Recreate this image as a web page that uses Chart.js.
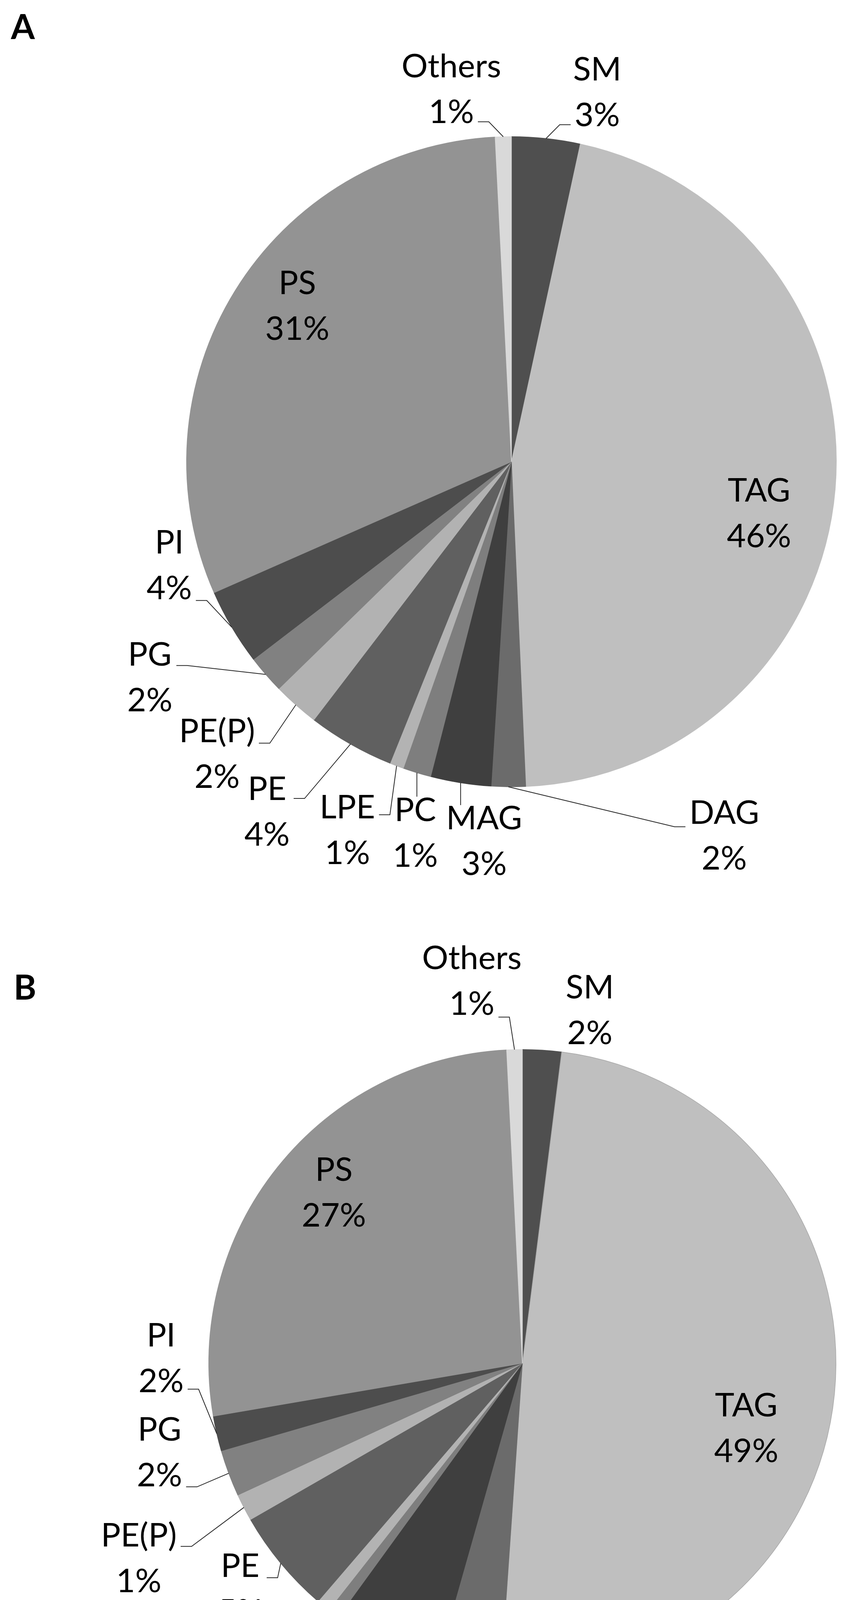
<!DOCTYPE html>
<html lang="en">
<head>
    <meta charset="UTF-8">
    <title>Lipid class composition</title>
    <script src="https://cdn.jsdelivr.net/npm/chart.js"></script>
    <style>
        html, body { margin: 0; padding: 0; background: #fff; }
        body { width: 2190px; height: 4567px; overflow: hidden; }
        canvas { display: block; }
    </style>
</head>
<body>
    <canvas id="pieA" width="2190" height="2300"></canvas>
    <canvas id="pieB" width="2190" height="2267"></canvas>

    <script>
        // lipid classes, clockwise from 12 o'clock
        const categories = ['SM', 'TAG', 'DAG', 'MAG', 'PC', 'LPE', 'PE', 'PE(P)', 'PG', 'PI', 'PS', 'Others'];

        // percent of total
        const valuesA = [3.4, 45.9, 1.7, 3.0, 1.4, 0.7, 4.3, 2.3, 1.9, 3.8, 30.8, 0.8];
        const valuesB = [2.0, 49.1, 3.3, 5.6, 0.6, 0.7, 5.4, 1.4, 2.4, 1.8, 26.9, 0.8];

        const sliceColors = ['#4f4f4f', '#bfbfbf', '#6b6b6b', '#3f3f3f', '#7e7e7e', '#b3b3b3',
                             '#606060', '#b2b2b2', '#818181', '#4d4d4d', '#939393', '#d9d9d9'];
        // panel B has a faint outline round the TAG slice
        const borderColorsB = sliceColors.map((c, i) => i === 1 ? '#a8a8a8' : c);

        // label placement: [dx, dy] of the label block centre in radii from the pie centre,
        // leader side ('l' / 'r' / 't' / null) and where the leader meets the block (in line heights)
        const labelLayoutA = [
            [0.264, -1.135, 'l', 0.7],     // SM
            [0.762, 0.160, null, 0],       // TAG
            [0.655, 1.151, 'l', -0.2],     // DAG
            [-0.084, 1.169, 't', 0],       // MAG
            [-0.296, 1.143, 't', 0],       // PC
            [-0.505, 1.135, 'r', -0.35],   // LPE
            [-0.752, 1.078, 'r', -0.3],    // PE
            [-0.906, 0.901, 'r', -0.25],   // PE(P)
            [-1.113, 0.665, 'r', -0.27],   // PG
            [-1.053, 0.320, 'r', 0.76],    // PI
            [-0.659, -0.478, null, 0],     // PS
            [-0.185, -1.144, 'r', 0.7]     // Others
        ];
        const labelLayoutB = [
            [0.215, -1.124, null, 0],      // SM
            [0.714, 0.209, null, 0],       // TAG
            [0.139, 1.186, 'l', -0.24],    // DAG
            [-0.479, 1.085, null, 0],      // MAG
            [-0.776, 1.146, 'r', -0.27],   // PC
            [-1.037, 1.077, 'r', -0.38],   // LPE
            [-0.900, 0.720, 'r', -0.25],   // PE
            [-1.223, 0.623, 'r', -0.27],   // PE(P)
            [-1.157, 0.286, 'r', 0.74],    // PG
            [-1.152, -0.015, 'r', 0.67],   // PI
            [-0.601, -0.542, null, 0],     // PS
            [-0.161, -1.217, 'r', 0.78]    // Others
        ];

        const FONT = 'Lato, "Open Sans", sans-serif';

        // draws "name / pct" labels with Excel-like leader lines, plus the panel letter
        const sliceLabels = {
            id: 'sliceLabels',
            afterDatasetsDraw(chart, args, opts) {
                const ctx = chart.ctx;
                const meta = chart.getDatasetMeta(0);
                const data = chart.data.datasets[0].data;
                const total = data.reduce((a, b) => a + b, 0);
                const lh = opts.lineHeight;
                ctx.save();
                ctx.font = opts.size + 'px ' + FONT;
                ctx.textAlign = 'center';
                ctx.textBaseline = 'middle';
                ctx.fillStyle = '#000';
                ctx.strokeStyle = '#262626';
                ctx.lineWidth = 2;
                meta.data.forEach((arc, i) => {
                    const [dx, dy, side, ay] = opts.layout[i];
                    const R = arc.outerRadius;
                    const bx = arc.x + dx * R;
                    const by = arc.y + dy * R;
                    const name = chart.data.labels[i];
                    const pct = Math.round(data[i] / total * 100) + '%';
                    ctx.fillText(name, bx, by - lh / 2);
                    ctx.fillText(pct, bx, by + lh / 2);
                    if (!side) return;
                    const mid = (arc.startAngle + arc.endAngle) / 2;
                    const px = arc.x + R * Math.cos(mid);
                    const py = arc.y + R * Math.sin(mid);
                    const wName = ctx.measureText(name).width;
                    const wPct = ctx.measureText(pct).width;
                    const w = ay > 0.4 ? wPct : Math.max(wName, wPct);
                    ctx.beginPath();
                    ctx.moveTo(px, py);
                    if (side === 't') {
                        ctx.lineTo(px, by - lh / 2 - opts.size * 0.42);
                    } else {
                        const sx = side === 'l' ? bx - w / 2 - 10 : bx + w / 2 + 10;
                        const ex = side === 'l' ? sx - 28 : sx + 28;
                        const sy = by + ay * lh;
                        ctx.lineTo(ex, sy);
                        ctx.lineTo(sx, sy);
                    }
                    ctx.stroke();
                });
                // panel letter
                ctx.font = 'bold ' + opts.letterSize + 'px ' + FONT;
                ctx.textAlign = 'left';
                ctx.textBaseline = 'alphabetic';
                ctx.fillText(opts.letter, opts.letterX, opts.letterY);
                ctx.restore();
            }
        };

        function makePie(id, values, borders, layout, padding, letter, letterX, letterY) {
            return new Chart(document.getElementById(id), {
                type: 'pie',
                data: {
                    labels: categories,
                    datasets: [{
                        data: values,
                        backgroundColor: sliceColors,
                        borderColor: borders,
                        borderWidth: 1.5,
                        hoverOffset: 0
                    }]
                },
                options: {
                    responsive: false,
                    animation: false,
                    devicePixelRatio: 1,
                    layout: { padding: padding },
                    plugins: {
                        legend: { display: false },
                        tooltip: { enabled: false },
                        sliceLabels: {
                            layout: layout,
                            size: 84,
                            lineHeight: 117,
                            letter: letter,
                            letterSize: 88,
                            letterX: letterX,
                            letterY: letterY
                        }
                    }
                },
                plugins: [sliceLabels]
            });
        }

        makePie('pieA', valuesA, sliceColors, labelLayoutA, { left: 477, right: 47, top: 349, bottom: 285 }, 'A', 28, 100);
        makePie('pieB', valuesB, borderColorsB, labelLayoutB, { left: 534, right: 48, top: 386, bottom: 273 }, 'B', 35, 259);
    </script>
</body>
</html>
